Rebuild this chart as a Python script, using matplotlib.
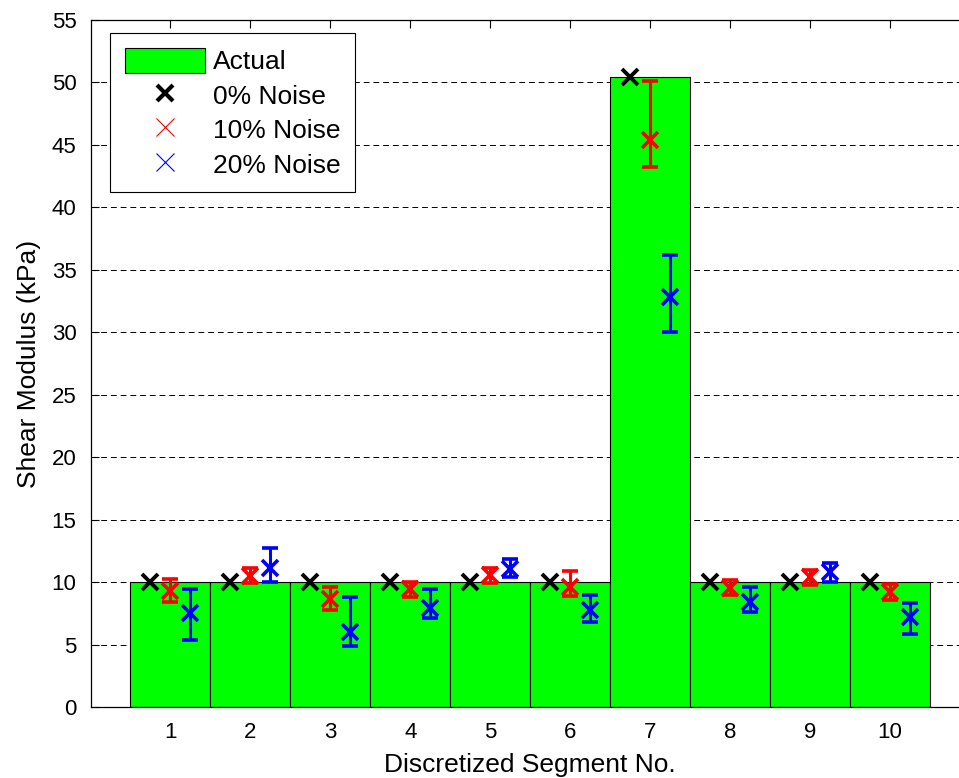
import matplotlib

matplotlib.use("Agg")
import matplotlib.pyplot as plt
from matplotlib.lines import Line2D
from matplotlib.patches import Patch

plt.rcParams["font.family"] = ["Liberation Sans", "DejaVu Sans"]

segments = [1, 2, 3, 4, 5, 6, 7, 8, 9, 10]
actual = [10, 10, 10, 10, 10, 10, 50.4, 10, 10, 10]
noise_0 = [10, 10, 10, 10, 10, 10, 50.4, 10, 10, 10]

noise_10_mean = [9.25, 10.5, 8.65, 9.42, 10.57, 9.63, 45.4, 9.55, 10.38, 9.23]
noise_10_low = [8.43, 9.95, 7.77, 8.83, 9.95, 8.89, 43.26, 8.97, 9.77, 8.57]
noise_10_high = [10.25, 11.1, 9.63, 10.03, 11.1, 10.92, 50.12, 10.17, 10.97, 9.85]

noise_20_mean = [7.5, 11.1, 6.03, 7.9, 11.02, 7.77, 32.85, 8.43, 10.83, 7.18]
noise_20_low = [5.36, 10.0, 4.88, 7.1, 10.38, 6.83, 30.05, 7.63, 10.03, 5.82]
noise_20_high = [9.45, 12.7, 8.83, 9.42, 11.82, 8.97, 36.19, 9.63, 11.55, 8.35]

y_ticks = list(range(0, 56, 5))


def err(mean, low, high):
    return [
        [m - l for m, l in zip(mean, low)],
        [h - m for m, h in zip(mean, high)],
    ]


def main() -> None:
    fig = plt.figure(figsize=(9.59, 7.78), dpi=100)
    ax = fig.add_axes([90.5 / 959, 71 / 778, 879.5 / 959, 687 / 778])

    ax.bar(segments, actual, width=1.0, color="#00ff00",
           edgecolor="black", linewidth=0.8, zorder=2)

    x0 = [s - 0.25 for s in segments]
    x2 = [s + 0.25 for s in segments]
    ax.plot(x0, noise_0, linestyle="none", marker="x", color="black",
            markersize=12, markeredgewidth=2.8, zorder=4)
    ax.errorbar(segments, noise_10_mean,
                yerr=err(noise_10_mean, noise_10_low, noise_10_high),
                fmt="x", color="red", markersize=12, markeredgewidth=2.6,
                elinewidth=2.2, capsize=5.5, capthick=2.2, zorder=4)
    ax.errorbar(x2, noise_20_mean,
                yerr=err(noise_20_mean, noise_20_low, noise_20_high),
                fmt="x", color="blue", markersize=12, markeredgewidth=2.6,
                elinewidth=2.2, capsize=5.5, capthick=2.2, zorder=4)

    ax.set_xlim(0, 11)
    ax.set_ylim(0, 55)
    ax.set_xticks(segments)
    ax.set_yticks(y_ticks)
    ax.tick_params(direction="in", length=6, width=0.8, labelsize=16,
                   top=True, right=True, pad=10)
    ax.tick_params(axis="x", pad=11)
    ax.yaxis.grid(True, linestyle=(0, (6, 4)), color="black",
                  linewidth=0.7, zorder=0)
    ax.set_axisbelow(True)
    for spine in ax.spines.values():
        spine.set_linewidth(0.9)

    ax.set_xlabel("Discretized Segment No.", fontsize=19, labelpad=7)
    ax.set_ylabel("Shear Modulus (kPa)", fontsize=19, labelpad=8)

    handles = [
        Patch(facecolor="#00ff00", edgecolor="black", linewidth=0.8),
        Line2D([], [], linestyle="none", marker="x", color="black",
               markersize=11, markeredgewidth=3),
        Line2D([], [], linestyle="none", marker="x", color="red",
               markersize=13, markeredgewidth=0.8),
        Line2D([], [], linestyle="none", marker="x", color="blue",
               markersize=13, markeredgewidth=0.8),
    ]
    labels = ["Actual", "0% Noise", "10% Noise", "20% Noise"]
    leg = ax.legend(handles, labels, loc="upper left",
                    bbox_to_anchor=(110 / 959, 1 - 33 / 778),
                    bbox_transform=fig.transFigure, borderaxespad=0,
                    fontsize=19, handlelength=3.05, handleheight=1.1,
                    handletextpad=0.3, labelspacing=0.3, borderpad=0.55,
                    fancybox=False, framealpha=1, edgecolor="black")
    leg.get_frame().set_linewidth(0.8)

    fig.savefig("out.png", dpi=100)
    plt.close(fig)


if __name__ == "__main__":
    main()
